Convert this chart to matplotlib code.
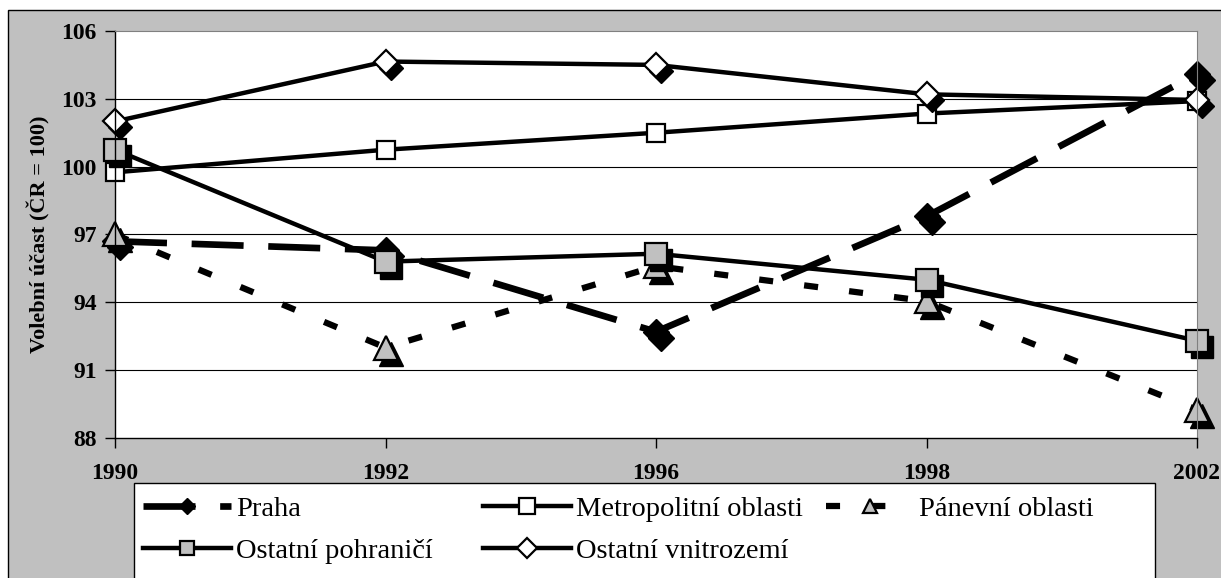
import matplotlib
matplotlib.use('Agg')
import matplotlib.pyplot as plt
import matplotlib.transforms as mtransforms
from matplotlib.patches import Rectangle

plt.rcParams['font.family'] = ['Liberation Serif', 'DejaVu Serif']

years = ['1990', '1992', '1996', '1998', '2002']
praha = [96.7, 96.3, 92.7, 97.8, 104.1]
metropolitni = [99.75, 100.75, 101.5, 102.35, 102.9]
panevni = [97.0, 92.0, 95.6, 94.05, 89.25]
pohranici = [100.75, 95.8, 96.15, 95.0, 92.3]
vnitrozemi = [102.0, 104.65, 104.5, 103.2, 102.95]
y_ticks = [88, 91, 94, 97, 100, 103, 106]

W, H = 1221, 578
fig = plt.figure(figsize=(W / 100, H / 100), dpi=100)
fig.patch.set_facecolor('white')

# gray chart area with black border (right/bottom cut off like the original)
fig.add_artist(Rectangle((8 / W, -0.05), 1.0, 1.05 - 10 / H, transform=fig.transFigure,
                         facecolor='#C0C0C0', edgecolor='black', lw=1, zorder=-1))

ax = fig.add_axes([115 / W, 1 - 438 / H, (1197 - 115) / W, (438 - 31) / H])
ax.set_facecolor('white')

x = list(range(len(years)))
shadow = ax.transData + mtransforms.ScaledTranslation(5 / 100, -6 / 100, fig.dpi_scale_trans)


def draw_shadow(vals, marker, ms):
    ax.plot(x, vals, ls='none', marker=marker, ms=ms, mfc='black', mec='black',
            transform=shadow, clip_on=False)


draw_shadow(praha, 'D', 13)
l_praha, = ax.plot(x, praha, color='black', lw=4.8, dashes=(7.8, 3.7), dash_capstyle='butt',
                   marker='D', ms=13, mfc='black', mec='black', clip_on=False, label='Praha')

l_metro, = ax.plot(x, metropolitni, color='black', lw=3.2, marker='s', ms=13, mfc='white',
                   mec='black', mew=1.6, clip_on=False, label='Metropolitní oblasti')

draw_shadow(panevni, '^', 17)
l_panev, = ax.plot(x, panevni, color='black', lw=4.5, dashes=(2.25, 5.0), dash_capstyle='butt',
                   marker='^', ms=17, mfc='#C0C0C0', mec='black', mew=1.6, clip_on=False,
                   label='Pánevní oblasti')

draw_shadow(pohranici, 's', 16.5)
l_pohr, = ax.plot(x, pohranici, color='black', lw=3.2, marker='s', ms=16.5, mfc='#C0C0C0',
                  mec='black', mew=1.6, clip_on=False, label='Ostatní pohraničí')

draw_shadow(vnitrozemi, 'D', 12)
l_vnit, = ax.plot(x, vnitrozemi, color='black', lw=3.2, marker='D', ms=12, mfc='white',
                  mec='black', mew=1.6, clip_on=False, label='Ostatní vnitrozemí')

ax.set_xlim(0, len(years) - 1)
ax.set_ylim(y_ticks[0], y_ticks[-1])
ax.set_xticks(x)
ax.set_xticklabels(years)
ax.set_yticks(y_ticks)
for yv in y_ticks[1:-1]:
    ax.axhline(yv, color='black', lw=0.8, zorder=0.5)

for s in ['top', 'right']:
    ax.spines[s].set_color('#808080')
for s in ['left', 'bottom']:
    ax.spines[s].set_color('black')
    ax.spines[s].set_linewidth(1)

ax.tick_params(axis='both', direction='out', length=7, width=1, labelsize=17)
ax.tick_params(axis='x', pad=11)
ax.tick_params(axis='y', pad=6)
for lab in ax.get_xticklabels() + ax.get_yticklabels():
    lab.set_fontweight('bold')

ax.set_ylabel('Volební účast (ČR = 100)', fontsize=16, fontweight='bold')
ax.yaxis.set_label_coords(-0.060, 0.5)

# legend box
fig.add_artist(Rectangle((134 / W, -0.05), (1155 - 134) / W, 0.05 + 1 - 483 / H,
                         transform=fig.transFigure, facecolor='white', edgecolor='black',
                         lw=1, zorder=1))

leg_cols = [
    (143, [l_praha, l_pohr], 0.65),
    (483, [l_metro, l_vnit], 0.85),
    (826, [l_panev], 0.6),
]
for xpx, handles, mscale in leg_cols:
    leg = fig.legend(handles=handles, loc='upper left', bbox_to_anchor=(xpx / W, 1 - 496 / H),
                     bbox_transform=fig.transFigure, frameon=False, fontsize=20.5,
                     borderpad=0, borderaxespad=0, handlelength=3.1, handletextpad=0.18,
                     labelspacing=0.57, markerscale=mscale, numpoints=1)
    leg.set_zorder(2)

fig.savefig('out.png', dpi=100)
